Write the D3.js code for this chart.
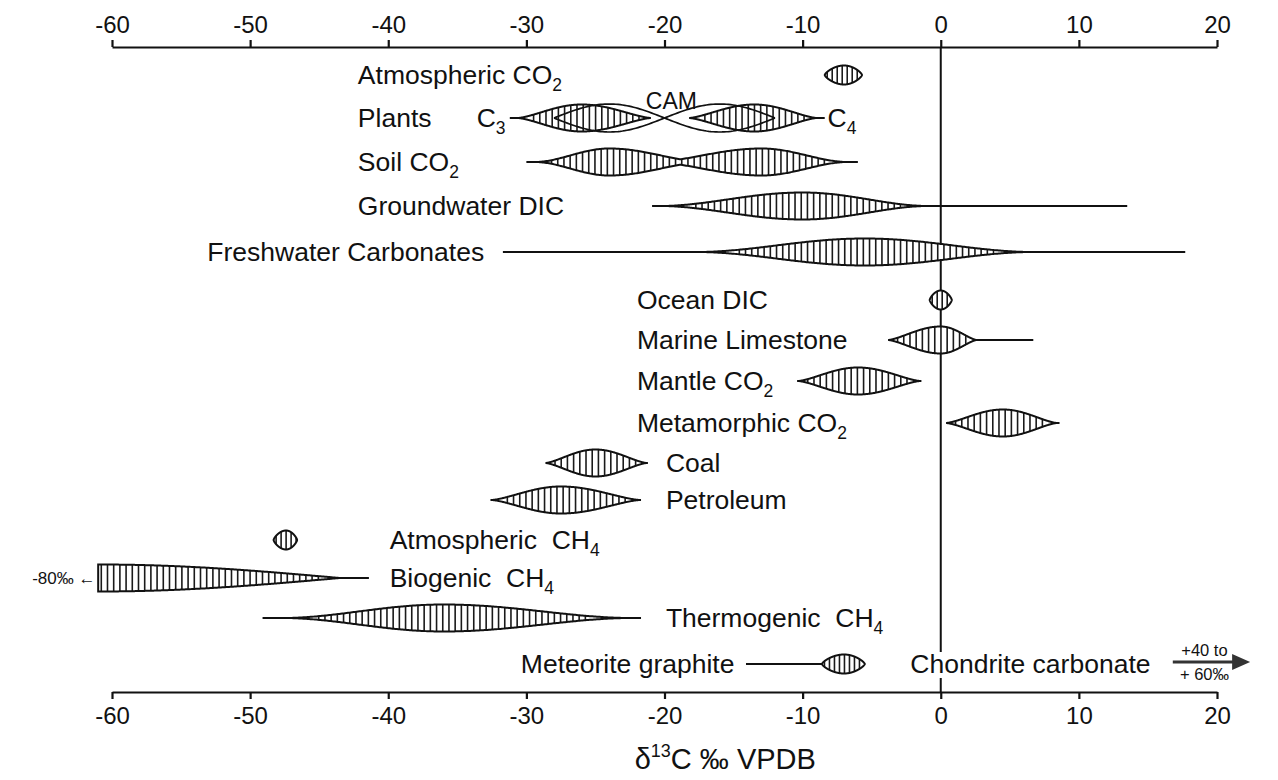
<!DOCTYPE html>
<html><head><meta charset="utf-8">
<script src="https://cdn.jsdelivr.net/npm/d3@7"></script>
<style>
body{margin:0;background:#fff;}
svg{display:block;font-family:"Liberation Sans",Arial,Helvetica,sans-serif;}
</style></head>
<body><svg id="c" width="1278" height="780"></svg>
<script>
// ---------------- DATA (δ13C ‰ VPDB) ----------------
const ticks = [-60,-50,-40,-30,-20,-10,0,10,20];
const rows = ["Atmospheric CO2","Plants","Soil CO2","Groundwater DIC","Freshwater Carbonates",
  "Ocean DIC","Marine Limestone","Mantle CO2","Metamorphic CO2","Coal","Petroleum",
  "Atmospheric CH4","Biogenic CH4","Thermogenic CH4","Meteorite graphite"];
// hatched bodies: row, low end, mode, high end
const bodyRow  = ["Atmospheric CO2","Plants","Plants","Soil CO2","Soil CO2","Groundwater DIC","Freshwater Carbonates",
  "Ocean DIC","Marine Limestone","Mantle CO2","Metamorphic CO2","Coal","Petroleum",
  "Atmospheric CH4","Biogenic CH4","Thermogenic CH4","Meteorite graphite"];
const bodyLow  = [-8.4,-30.6,-18.2,-29.3,-21.0,-20.2,-17.5, -0.8,-3.8,-10.3, 0.4,-28.6,-32.5,-48.3,-61.0,-47.5,-8.6];
const bodyMode = [-7.0,-26.0,-13.5,-24.0,-13.0,-10.0, -5.5,  0.0, 0.0, -6.0, 4.5,-25.0,-27.5,-47.4,-61.0,-36.0,-7.0];
const bodyHigh = [-5.7,-21.0, -9.0,-17.0, -6.8, -1.0,  6.5,  0.8, 2.6, -1.5, 8.4,-21.3,-21.8,-46.6,-43.5,-22.5,-5.5];
// full ranges (whiskers)
const rangeRow = ["Plants","Plants","Soil CO2","Groundwater DIC","Freshwater Carbonates","Marine Limestone",
  "Mantle CO2","Metamorphic CO2","Coal","Petroleum","Biogenic CH4","Thermogenic CH4","Meteorite graphite"];
const rangeMin = [-31.2,-18.2,-30.0,-20.9,-31.7,-3.8,-10.4, 0.4,-28.6,-32.6,-61.0,-49.1,-14.1];
const rangeMax = [-21.0, -8.4, -6.0, 13.5, 17.7, 6.7, -1.4, 8.6,-21.2,-21.7,-41.4,-21.7, -5.5];
// CAM plants envelope
const camRange = [-28,-12];
// label anchor (δ13C value where text starts)
const labelAt = [-42.2,-42.2,-42.2,-42.2,-53.1,-22.0,-22.0,-22.0,-22.0,-19.9,-19.9,-39.9,-39.9,-19.9,-30.4];
const chondriteLabelAt = -2.2;
const chondriteRange = ["+40 to","+ 60‰"];
// ---------------------------------------------------

const svg = d3.select("#c");
const W = 1278, H = 780;
svg.append("rect").attr("width",W).attr("height",H).attr("fill","#fff");

const x = d3.scaleLinear().domain([-60,20]).range([112,1217]);
const yTop = 47, yBot = 692;
const y = d3.scalePoint().domain(rows).range([75,664]);
const rowY = {"Atmospheric CO2":75,"Plants":118,"Soil CO2":162,"Groundwater DIC":206,"Freshwater Carbonates":252,
 "Ocean DIC":300,"Marine Limestone":340,"Mantle CO2":381,"Metamorphic CO2":423,"Coal":463,"Petroleum":500,
 "Atmospheric CH4":540,"Biogenic CH4":578,"Thermogenic CH4":618,"Meteorite graphite":664};
const Y = r => rowY[r] !== undefined ? rowY[r] : y(r);

const small = new Set(["Atmospheric CO2","Ocean DIC","Atmospheric CH4","Meteorite graphite"]);
const longTail = new Set(["Freshwater Carbonates","Thermogenic CH4","Groundwater DIC","Soil CO2"]);
const halfH = r => small.has(r) ? 9.5 : 13.5;

// zero line
svg.append("line").attr("x1",x(0)).attr("x2",x(0)).attr("y1",yTop).attr("y2",yBot)
  .attr("stroke","#111").attr("stroke-width",2);

// axes
const fontTick = 24;
const axT = svg.append("g").attr("transform",`translate(0,${yTop})`)
  .call(d3.axisTop(x).tickValues(ticks).tickSize(7).tickSizeOuter(0).tickPadding(7).tickFormat(d3.format("d")));
const axB = svg.append("g").attr("transform",`translate(0,${yBot})`)
  .call(d3.axisBottom(x).tickValues(ticks).tickSize(7).tickSizeOuter(0).tickPadding(8).tickFormat(d3.format("d")));
[axT,axB].forEach(a=>{
  a.select(".domain").attr("stroke","#111").attr("stroke-width",2.2);
  a.selectAll(".tick line").attr("stroke","#111").attr("stroke-width",2.2);
  a.selectAll("text").attr("font-size",fontTick).attr("fill","#111")
    .attr("font-family","'Liberation Sans',Arial,sans-serif")
    .text(d=>d<0?"-"+Math.abs(d):d);
});

// whiskers
rangeRow.forEach((r,i)=>{
  svg.append("line").attr("x1",x(rangeMin[i])).attr("x2",x(rangeMax[i]))
   .attr("y1",Y(r)).attr("y2",Y(r)).attr("stroke","#111").attr("stroke-width",2);
});

// body drawing
function profile(r,t){
  if(r==="Biogenic CH4") return Math.cos(t*Math.PI/2);
  if(small.has(r)) return Math.pow(Math.sin(t*Math.PI/2),0.7);
  if(longTail.has(r)) return Math.pow(Math.sin(t*Math.PI/2),1.8);
  return Math.pow(Math.sin(t*Math.PI/2),1.4);
}
function halfAt(i,v){
  const lo=bodyLow[i], md=bodyMode[i], hi=bodyHigh[i], r=bodyRow[i];
  if(v<lo||v>hi) return 0;
  if(r==="Biogenic CH4"){ return profile(r,(v-md)/(hi-md)); }
  if(v<=md) return md===lo?1:profile(r,(v-lo)/(md-lo));
  return profile(r,(hi-v)/(hi-md));
}
const bodyGroups = [];
bodyRow.forEach((r,i)=>{
  let g = bodyGroups.find(g=>g.r===r && r==="Soil CO2");
  if(!g){ g={r,idx:[]}; bodyGroups.push(g);} g.idx.push(i);
});
bodyGroups.forEach(g=>{
  const r=g.r, cy=Y(r), hh=halfH(r);
  const lo=d3.min(g.idx,i=>bodyLow[i]), hi=d3.max(g.idx,i=>bodyHigh[i]);
  const f = v => d3.max(g.idx,i=>halfAt(i,v));
  const N=240, pts=d3.range(N+1).map(k=>lo+(hi-lo)*k/N);
  const top = pts.map(v=>[x(v),cy-hh*f(v)]);
  const bot = pts.slice().reverse().map(v=>[x(v),cy+hh*f(v)]);
  const path = d3.line()(top.concat(bot))+"Z";
  svg.append("path").attr("d",path).attr("fill","#fff").attr("stroke","none");
  const step = small.has(r)?5:6.2;
  const hatch = svg.append("g");
  for(let px=x(lo)+step/2; px<x(hi); px+=step){
    const h=hh*f(x.invert(px));
    if(h<1.8) continue;
    hatch.append("line").attr("x1",px).attr("x2",px).attr("y1",cy-h).attr("y2",cy+h)
      .attr("stroke","#1a1a1a").attr("stroke-width",1.6);
  }
  svg.append("path").attr("d",path).attr("fill","none").attr("stroke","#111").attr("stroke-width",2);
});

// CAM envelope (twisted ribbon)
{
  const cy=Y("Plants"), A=14, [a,b]=camRange;
  const pts=d3.range(101).map(k=>a+(b-a)*k/100);
  const s = v => Math.sin(2*Math.PI*(v-a)/(b-a));
  const l = d3.line();
  svg.append("path").attr("d",l(pts.map(v=>[x(v),cy-A*s(v)]))).attr("fill","none").attr("stroke","#111").attr("stroke-width",1.7);
  svg.append("path").attr("d",l(pts.map(v=>[x(v),cy+A*s(v)]))).attr("fill","none").attr("stroke","#111").attr("stroke-width",1.7);
}

// labels
const fontLab = 26.5;
function label(txt, sub, px, py, fs){
  const t = svg.append("text").attr("x",px).attr("y",py).attr("font-size",fs).attr("fill","#111")
    .style("white-space","pre");
  t.append("tspan").text(txt);
  if(sub){ t.append("tspan").attr("font-size",fs*0.66).attr("dy",fs*0.27).text(sub); }
  return t;
}
const subOf = {"Atmospheric CO2":["Atmospheric CO","2"],"Soil CO2":["Soil CO","2"],"Mantle CO2":["Mantle CO","2"],
 "Metamorphic CO2":["Metamorphic CO","2"],"Atmospheric CH4":["Atmospheric  CH","4"],"Biogenic CH4":["Biogenic  CH","4"],
 "Thermogenic CH4":["Thermogenic  CH","4"]};
rows.forEach((r,i)=>{
  const s = subOf[r] || [r,null];
  label(s[0], s[1], x(labelAt[i]), Y(r)+9, fontLab);
});
label("C","3", x(-33.6), Y("Plants")+9, fontLab);
label("C","4", x(-8.2), Y("Plants")+9, fontLab);
svg.append("text").attr("x",x(-19.5)).attr("y",Y("Plants")-9).attr("text-anchor","middle")
  .attr("font-size",23).attr("fill","#111").text("CAM");

// biogenic -80 note
svg.append("text").attr("x",x(-61.2)).attr("y",Y("Biogenic CH4")+6).attr("text-anchor","end")
  .attr("font-size",17).attr("fill","#111").style("white-space","pre").text("-80‰ ←");

// chondrite carbonate
{
  const cy = Y("Meteorite graphite");
  const t = svg.append("text").attr("x",x(chondriteLabelAt)).attr("y",cy+9).attr("font-size",fontLab).attr("fill","#111").text("Chondrite carbonate");
  const bb = t.node().getBBox();
  svg.insert("rect", function(){ return t.node(); }).attr("x",x(0)-3).attr("y",bb.y+3).attr("width",6).attr("height",bb.height-4).attr("fill","#fff");
  const ax0 = x(16.8), ax1 = x(22.4);
  svg.append("line").attr("x1",ax0).attr("x2",ax1-14).attr("y1",cy-2).attr("y2",cy-2).attr("stroke","#333").attr("stroke-width",2.8);
  svg.append("path").attr("d",`M${ax1-18},${cy-10}L${ax1},${cy-2}L${ax1-18},${cy+6}Z`).attr("fill","#333");
  svg.append("text").attr("x",(ax0+ax1)/2-7).attr("y",cy-8).attr("text-anchor","middle").attr("font-size",16.5).attr("fill","#111").text(chondriteRange[0]);
  svg.append("text").attr("x",(ax0+ax1)/2-7).attr("y",cy+16).attr("text-anchor","middle").attr("font-size",16.5).attr("fill","#111").text(chondriteRange[1]);
}

// axis title
{
  const t = svg.append("text").attr("x",x(-15.6)).attr("y",769).attr("text-anchor","middle").attr("font-size",29).attr("fill","#111");
  t.append("tspan").text("δ");
  t.append("tspan").attr("font-size",18).attr("dy",-12).text("13");
  t.append("tspan").attr("dy",12).text("C ‰ VPDB");
}
</script></body></html>
